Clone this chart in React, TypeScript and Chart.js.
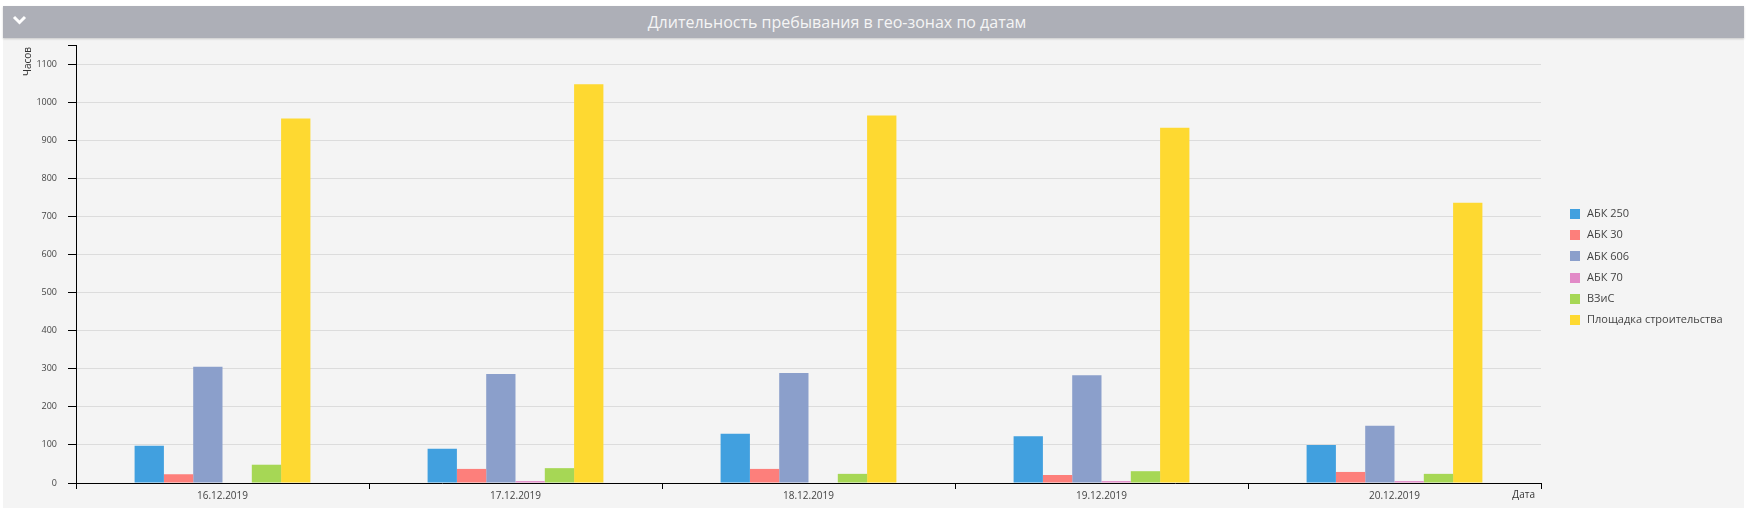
import React, { useEffect, useRef } from 'react';
import { Chart, registerables } from 'chart.js';

Chart.register(...registerables);

const chartTitle = 'Длительность пребывания в гео-зонах по датам';
const yAxisTitle = 'Часов';
const xAxisTitle = 'Дата';

const categories = ['16.12.2019', '17.12.2019', '18.12.2019', '19.12.2019', '20.12.2019'];

const seriesNames = ['АБК 250', 'АБК 30', 'АБК 606', 'АБК 70', 'ВЗиС', 'Площадка строительства'];
const abk250 = [98, 90, 129, 123, 100];
const abk30 = [23, 37, 37, 21, 29];
const abk606 = [305, 286, 289, 283, 150];
const abk70 = [0, 5, 0, 5, 5];
const vzis = [48, 39, 24, 31, 24];
const ploshchadka = [957, 1047, 965, 933, 736];
const seriesColors = ['#41a0df', '#fd7f7b', '#8b9fcb', '#e28ac7', '#a6d755', '#fed931'];

const yTickValues = [0, 100, 200, 300, 400, 500, 600, 700, 800, 900, 1000, 1100];
const yMax = 1150;

const FONT = '"Open Sans", "DejaVu Sans", sans-serif';

export default function App() {
  const canvasRef = useRef<HTMLCanvasElement | null>(null);

  useEffect(() => {
    document.body.style.margin = '0';
    const canvas = canvasRef.current;
    if (!canvas) return;
    const seriesValues = [abk250, abk30, abk606, abk70, vzis, ploshchadka];

    const extrasPlugin = {
      id: 'extras',
      afterDraw(chart: any) {
        const ctx = chart.ctx;
        const area = chart.chartArea;
        ctx.save();
        // y axis title
        ctx.fillStyle = '#333';
        ctx.font = '10px ' + FONT;
        ctx.translate(28, area.top + 2);
        ctx.rotate(-Math.PI / 2);
        ctx.textAlign = 'right';
        ctx.textBaseline = 'middle';
        ctx.fillText(yAxisTitle, 0, 0);
        ctx.restore();

        // x axis title
        ctx.save();
        ctx.fillStyle = '#333';
        ctx.font = '10px ' + FONT;
        ctx.textAlign = 'right';
        ctx.textBaseline = 'middle';
        ctx.fillText(xAxisTitle, area.right - 6, 495);
        ctx.restore();

        // legend
        ctx.save();
        ctx.font = '11px ' + FONT;
        ctx.textAlign = 'left';
        ctx.textBaseline = 'middle';
        chart.data.datasets.forEach((ds: any, i: number) => {
          const cy = 214 + i * 21.2;
          ctx.fillStyle = ds.backgroundColor;
          ctx.fillRect(1570, Math.round(cy - 5), 10, 10);
          ctx.fillStyle = '#444';
          ctx.fillText(ds.label, 1587, cy);
        });
        ctx.restore();
      },
    };

    const chart = new Chart(canvas, {
      type: 'bar',
      data: {
        labels: categories,
        datasets: seriesNames.map((name, i) => ({
          label: name,
          data: seriesValues[i],
          backgroundColor: seriesColors[i],
          borderWidth: 0,
          categoryPercentage: 0.6,
          barPercentage: 1.0,
        })),
      },
      options: {
        animation: false,
        responsive: false,
        devicePixelRatio: 1,
        layout: { padding: { top: 45, right: 212, bottom: 0, left: 0 } },
        plugins: {
          legend: { display: false },
          tooltip: { enabled: false },
          title: { display: false },
        },
        scales: {
          x: {
            type: 'category',
            offset: true,
            grid: {
              offset: true,
              drawOnChartArea: false,
              drawTicks: true,
              tickLength: 6,
              tickColor: '#000',
              color: '#000',
            },
            border: { display: true, color: '#000', width: 1 },
            ticks: {
              color: '#444',
              font: { family: FONT, size: 10 },
              padding: 1,
              maxRotation: 0,
              autoSkip: false,
            },
            afterFit(scale: any) {
              scale.height = 30;
            },
          },
          y: {
            type: 'linear',
            min: 0,
            max: yMax,
            afterBuildTicks(scale: any) {
              scale.ticks = yTickValues.concat([yMax]).map((v) => ({ value: v }));
            },
            grid: {
              color: (c: any) => (c.tick && c.tick.value === yMax ? 'rgba(0,0,0,0)' : '#dcdcdc'),
              tickColor: '#000',
              tickLength: 8,
              drawTicks: true,
            },
            border: { display: true, color: '#000', width: 1 },
            ticks: {
              color: '#444',
              font: { family: FONT, size: 9 },
              padding: 11,
              callback: (v: any) => (v === yMax ? '' : String(v)),
            },
            afterFit(scale: any) {
              scale.width = 76;
            },
          },
        },
      },
      plugins: [extrasPlugin],
    });

    return () => chart.destroy();
  }, []);

  return (
    <div style={{ position: 'relative', width: 1753, height: 513, background: '#fff', overflow: 'hidden' }}>
      <div
        style={{
          position: 'absolute',
          left: 3,
          top: 38,
          width: 1741,
          height: 470,
          background: '#f4f4f4',
        }}
      />
      <div
        style={{
          position: 'absolute',
          left: 3,
          top: 6,
          width: 1741,
          height: 32,
          background: '#adafb7',
          boxShadow: '0 1px 2px rgba(0,0,0,0.18)',
        }}
      >
        <svg width="30" height="32" style={{ position: 'absolute', left: 4, top: 0 }}>
          <polyline points="7,11 12.5,16.5 18,11" fill="none" stroke="#fff" strokeWidth="3" />
        </svg>
        <div
          style={{
            position: 'absolute',
            left: 0,
            top: 0,
            width: 1668,
            height: 32,
            lineHeight: '32px',
            textAlign: 'center',
            color: '#f5f5f5',
            fontFamily: FONT,
            fontSize: 16,
          }}
        >
          {chartTitle}
        </div>
      </div>
      <canvas
        ref={canvasRef}
        width={1753}
        height={513}
        style={{ position: 'absolute', left: 0, top: 0, width: 1753, height: 513 }}
      />
    </div>
  );
}
